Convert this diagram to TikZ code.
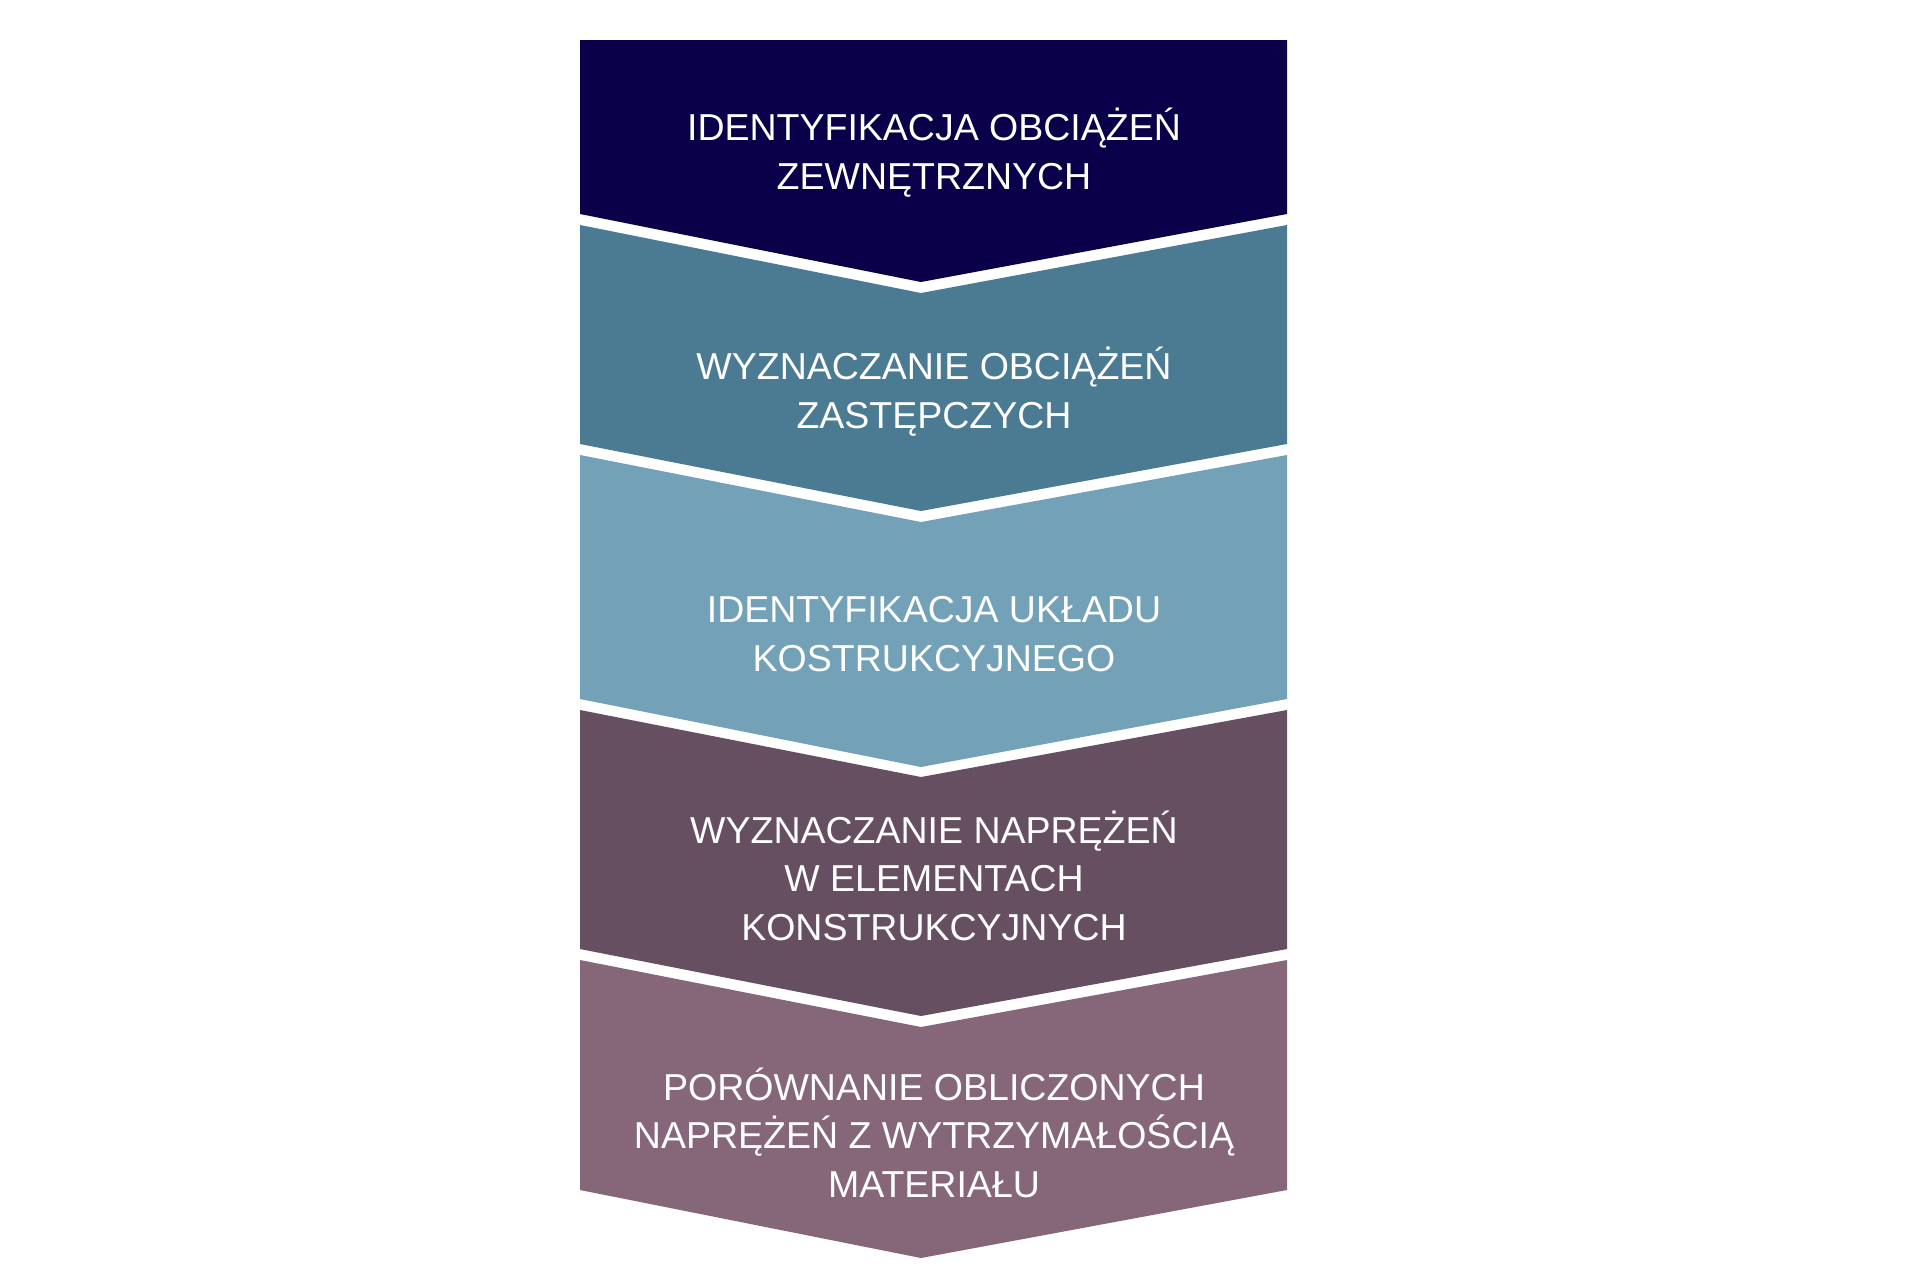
\documentclass[tikz,border=0pt]{standalone}
\usepackage{fontspec}
\setmainfont{Liberation Sans}
\usepackage{tikz}

\definecolor{krokA}{RGB}{10,0,74}
\definecolor{krokB}{RGB}{75,123,147}
\definecolor{krokC}{RGB}{114,161,184}
\definecolor{krokD}{RGB}{101,79,96}
\definecolor{krokE}{RGB}{134,103,122}

\begin{document}
\begin{tikzpicture}[x=0.5pt, y=-0.5pt,
  krok/.style={align=center, text=white, anchor=base, font=\fontsize{18.75}{24.25}\selectfont}]
\useasboundingbox (0,0) rectangle (1920,1280);

% Krok 1
\fill[krokA] (580,40) -- (1287,40) -- (1287,214) -- (921,282) -- (580,214) -- cycle;
\node[krok] (obciazenia) at (934,189) {IDENTYFIKACJA OBCIĄŻEŃ\\ZEWNĘTRZNYCH};

% Krok 2
\fill[krokB] (580,225) -- (921,293) -- (1287,225) -- (1287,444) -- (921,511) -- (580,444) -- cycle;
\node[krok] (zastepcze) at (934,428) {WYZNACZANIE OBCIĄŻEŃ\\ZASTĘPCZYCH};

% Krok 3
\fill[krokC] (580,455) -- (921,522) -- (1287,455) -- (1287,699) -- (921,767) -- (580,699) -- cycle;
\node[krok] (uklad) at (934,671) {IDENTYFIKACJA UKŁADU\\KOSTRUKCYJNEGO};

% Krok 4
\fill[krokD] (580,710) -- (921,777) -- (1287,710) -- (1287,949) -- (921,1016) -- (580,949) -- cycle;
\node[krok] (naprezenia) at (934,940) {WYZNACZANIE NAPRĘŻEŃ\\W ELEMENTACH\\KONSTRUKCYJNYCH};

% Krok 5
\fill[krokE] (580,960) -- (921,1027) -- (1287,960) -- (1287,1190) -- (921,1258) -- (580,1190) -- cycle;
\node[krok] (porownanie) at (934,1197) {PORÓWNANIE OBLICZONYCH\\NAPRĘŻEŃ Z WYTRZYMAŁOŚCIĄ\\MATERIAŁU};
\end{tikzpicture}
\end{document}
